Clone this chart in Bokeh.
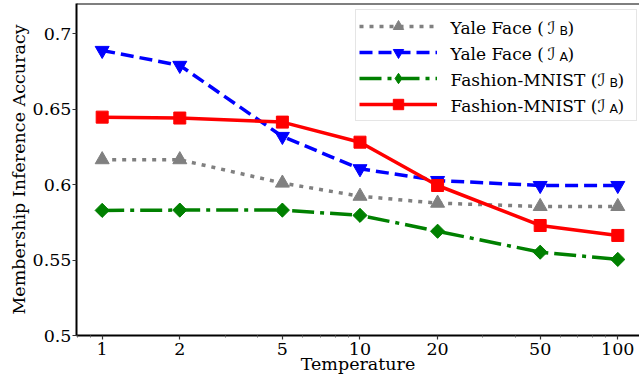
from bokeh.plotting import figure
from bokeh.models import (Range1d, FixedTicker, Legend, LegendItem, Label, Span)
from bokeh.embed import file_html
from bokeh.resources import INLINE

# ---------------- data ----------------
temps = [1, 2, 5, 10, 20, 50, 100]
yale_b = [0.6165, 0.6165, 0.6010, 0.5923, 0.5877, 0.5855, 0.5855]
yale_a = [0.6889, 0.6790, 0.6319, 0.6105, 0.6027, 0.5994, 0.5994]
fmnist_b = [0.5829, 0.5831, 0.5831, 0.5796, 0.5691, 0.5552, 0.5504]
fmnist_a = [0.6447, 0.6441, 0.6414, 0.6281, 0.5994, 0.5729, 0.5663]

x_ticks = [1, 2, 5, 10, 20, 50, 100]
x_minor = [0.8, 0.9, 3, 4, 6, 7, 8, 9, 30, 40, 60, 70, 80, 90]
y_ticks = [0.5, 0.55, 0.6, 0.65, 0.7]
y_tick_labels = ["0.5", "0.55", "0.6", "0.65", "0.7"]

series_names = ["Yale Face (", "Yale Face (", "Fashion-MNIST (", "Fashion-MNIST ("]
series_subs = ["B", "A", "B", "A"]

SERIF = "DejaVu Serif"
FS = "17.5px"
LFS = "17px"

p = figure(width=639, height=376, x_axis_type="log",
           x_range=Range1d(0.795, 121.4), y_range=Range1d(0.5, 0.72),
           output_backend="svg", toolbar_location=None,
           min_border_left=76, min_border_right=0, min_border_top=3,
           min_border_bottom=41)
p.outline_line_color = None
p.xgrid.visible = False
p.ygrid.visible = False
p.background_fill_color = "white"
p.border_fill_color = "white"

# top spine
p.add_layout(Span(location=0.72, dimension="width", line_color="black", line_width=2))

# axes
for ax in (p.xaxis[0], p.yaxis[0]):
    ax.axis_line_width = 2
    ax.axis_line_color = "black"
    ax.major_tick_out = 4
    ax.major_tick_in = 0
    ax.major_tick_line_width = 1.2
    ax.major_tick_line_color = "#333333"
    ax.major_label_text_font = SERIF
    ax.major_label_text_font_size = FS
    ax.major_label_text_color = "black"
    ax.axis_label_text_font = SERIF
    ax.axis_label_text_font_size = FS
    ax.axis_label_text_font_style = "normal"
    ax.axis_label_text_color = "black"

p.xaxis[0].ticker = FixedTicker(ticks=x_ticks, minor_ticks=x_minor)
p.xaxis[0].major_label_overrides = {t: str(t) for t in x_ticks}
p.xaxis[0].minor_tick_out = 2
p.xaxis[0].minor_tick_in = 0
p.xaxis[0].minor_tick_line_color = "#666666"
p.xaxis[0].major_label_standoff = 3
p.xaxis[0].axis_label = "Temperature"
p.xaxis[0].axis_label_standoff = -4

p.yaxis[0].ticker = FixedTicker(ticks=y_ticks)
p.yaxis[0].major_label_overrides = dict(zip(y_ticks, y_tick_labels))
p.yaxis[0].minor_tick_line_color = None
p.yaxis[0].major_label_standoff = 1
p.yaxis[0].axis_label = "Membership Inference Accuracy"
p.yaxis[0].axis_label_standoff = 1

LW = 3.5
l1 = p.line(temps, yale_b, line_color="gray", line_width=LW, line_dash="4 6")
s1 = p.scatter(temps, yale_b, marker="triangle", size=14, color="gray")
l2 = p.line(temps, yale_a, line_color="blue", line_width=LW, line_dash="13 6")
s2 = p.scatter(temps, yale_a, marker="inverted_triangle", size=14, color="blue")
l3 = p.line(temps, fmnist_b, line_color="green", line_width=LW, line_dash="22 6 4 6")
s3_key = p.scatter(temps, fmnist_b, marker="diamond", size=13, color="green")
s3 = p.scatter(temps, fmnist_b, marker="square", angle=0.785398, size=10, color="green")
l4 = p.line(temps, fmnist_a, line_color="red", line_width=LW)
s4 = p.scatter(temps, fmnist_a, marker="square", size=12, color="red")

legend = Legend(items=[LegendItem(label=" ", renderers=[l1, s1]),
                       LegendItem(label=" ", renderers=[l2, s2]),
                       LegendItem(label=" ", renderers=[l3, s3_key]),
                       LegendItem(label=" ", renderers=[l4, s4])],
                location=(279, 214), margin=0, padding=3, spacing=0,
                glyph_width=78, glyph_height=26, label_height=1,
                label_standoff=0, label_width=196,
                label_text_font_size="1px",
                border_line_color="#cccccc", border_line_width=1.5,
                background_fill_alpha=0)
p.add_layout(legend, "center")

# legend texts
row_y = [307.5, 281.5, 255.5, 229.5]
sym_x = [471, 471, 521, 521]
for name, sub, yb, sx in zip(series_names, series_subs, row_y, sym_x):
    p.add_layout(Label(x=374, y=yb, x_units="screen", y_units="screen", text=name,
                       text_font=SERIF, text_font_size=LFS, text_baseline="alphabetic",
                       text_color="black", level="overlay"))
    p.add_layout(Label(x=sx, y=yb, x_units="screen", y_units="screen", text="ℐ",
                       text_font="DejaVu Sans", text_font_size=LFS, text_baseline="alphabetic",
                       text_color="black", level="overlay"))
    p.add_layout(Label(x=sx + 12, y=yb - 2, x_units="screen", y_units="screen", text=sub,
                       text_font="DejaVu Sans", text_font_size="12.5px",
                       text_baseline="alphabetic", text_color="black", level="overlay"))
    p.add_layout(Label(x=sx + 20, y=yb, x_units="screen", y_units="screen", text=")",
                       text_font=SERIF, text_font_size=LFS, text_baseline="alphabetic",
                       text_color="black", level="overlay"))

open("out.html", "w").write(file_html(p, INLINE))
